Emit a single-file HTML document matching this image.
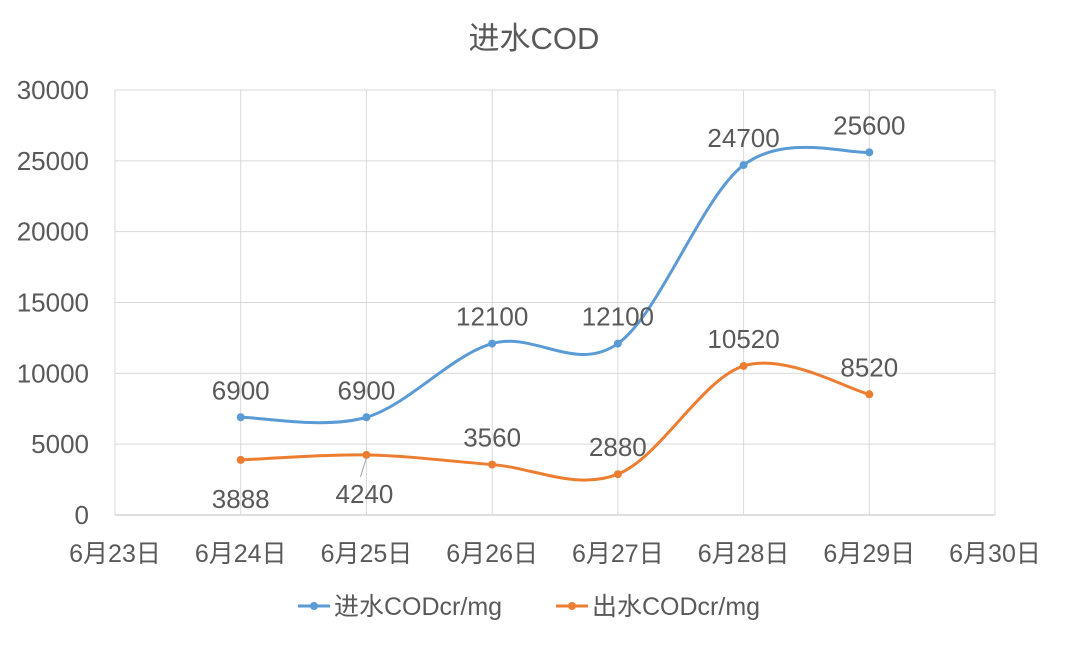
<!DOCTYPE html>
<html><head><meta charset="utf-8"><style>
body{margin:0;background:#fff;}
svg text{font-family:"Liberation Sans","Noto Sans CJK SC",sans-serif;fill:#595959;}
</style></head><body>
<svg id="chart" width="1068" height="641" viewBox="0 0 1068 641" xmlns="http://www.w3.org/2000/svg">
<text x="534" y="49" font-size="31" text-anchor="middle">进水COD</text>
<g id="grid"></g><g id="axes"></g><g id="series"></g><g id="labels"></g>
<g>
<g>
<line x1="298" y1="606" x2="330" y2="606" stroke="#5B9BD5" stroke-width="3"/><circle cx="314" cy="606" r="4" fill="#5B9BD5"/>
<text x="334" y="615" font-size="25">进水CODcr/mg</text></g>
<g>
<line x1="556" y1="606" x2="588" y2="606" stroke="#ED7D31" stroke-width="3"/><circle cx="572" cy="606" r="4" fill="#ED7D31"/>
<text x="592" y="615" font-size="25">出水CODcr/mg</text></g>
</g>
</svg>
<script>
const categories=["6月23日","6月24日","6月25日","6月26日","6月27日","6月28日","6月29日","6月30日"];
const inflowDates=["6月24日","6月25日","6月26日","6月27日","6月28日","6月29日"];
const inflowValues=[6900,6900,12100,12100,24700,25600];
const outflowValues=[3888,4240,3560,2880,10520,8520];
const outflowLabelPos=["below","below","above","above","above","above"];
const yTicks=[0,5000,10000,15000,20000,25000,30000];
const X0=115,X1=995,Y0=515,Y1=90,YMAX=30000;
const step=(X1-X0)/(categories.length-1);
const xs=c=>X0+categories.indexOf(c)*step;
const ys=v=>Y0-(v/YMAX)*(Y0-Y1);
const NS="http://www.w3.org/2000/svg";
function mk(tag,attrs,parent){const e=document.createElementNS(NS,tag);for(const k in attrs)e.setAttribute(k,attrs[k]);document.getElementById(parent).appendChild(e);return e;}
yTicks.forEach(t=>{
 const l=mk('line',{x1:X0,x2:X1,y1:ys(t),y2:ys(t),stroke:t===0?'#BFBFBF':'#D9D9D9','stroke-width':1},'grid');
 
 
 const tx=mk('text',{x:89,y:ys(t)+9,'font-size':26,'text-anchor':'end'},'axes');tx.textContent=t;
 
 
});
categories.forEach(c=>{
 const l=mk('line',{x1:xs(c),x2:xs(c),y1:Y1,y2:Y0,stroke:'#D9D9D9','stroke-width':1},'grid');
 
 
 const tx=mk('text',{x:xs(c),y:562,'font-size':25,'text-anchor':'middle'},'axes');tx.textContent=c;
 
 
});
function smooth(pts){let d=`M${pts[0][0]},${pts[0][1]}`;const t=0.5/3*2;
 for(let i=0;i<pts.length-1;i++){const p0=pts[i-1]||pts[i],p1=pts[i],p2=pts[i+1],p3=pts[i+2]||p2;
 const c1=[p1[0]+(p2[0]-p0[0])*t/2,p1[1]+(p2[1]-p0[1])*t/2],c2=[p2[0]-(p3[0]-p1[0])*t/2,p2[1]-(p3[1]-p1[1])*t/2];
 d+=` C${c1[0]},${c1[1]} ${c2[0]},${c2[1]} ${p2[0]},${p2[1]}`;}return d;}
function series(vals,color,name,labelPos){
 const pts=vals.map((v,i)=>[xs(inflowDates[i]),ys(v)]);
 const p=mk('path',{d:smooth(pts),fill:'none',stroke:color,'stroke-width':3},'series');
 
 
 pts.forEach((q,i)=>{
  const c=mk('circle',{cx:q[0],cy:q[1],r:4,fill:color},'series');
  
  
  const below=labelPos[i]==='below';
  const tx=mk('text',{x:q[0]-(below&&i===1?2:0),y:below?q[1]+48:q[1]-18,'font-size':26,'text-anchor':'middle'},'labels');
  tx.textContent=vals[i];
  
  
  if(below&&i===1){
   const ll=mk('line',{x1:q[0],y1:q[1]+3,x2:q[0]-6,y2:q[1]+22,stroke:'#A6A6A6','stroke-width':1},'labels');
   
   
  }
 });
}
series(inflowValues,'#5B9BD5','inflow',inflowValues.map(()=>'above'));
series(outflowValues,'#ED7D31','outflow',outflowLabelPos);
</script>
</body></html>
